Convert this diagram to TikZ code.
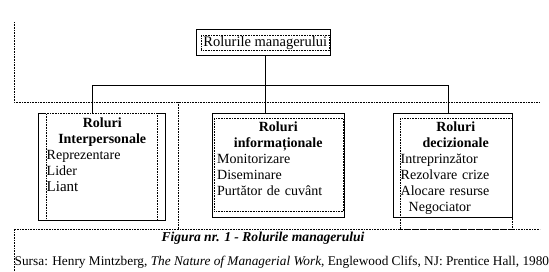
\documentclass[tikz,border=0pt]{standalone}
\usepackage{fontspec}
\setmainfont{Liberation Serif}
\tikzset{
  rolebox/.style={draw,line width=0.8pt,anchor=north west,inner sep=0pt},
  dotbox/.style={draw,densely dotted,line width=0.6pt,anchor=north west,inner sep=0pt},
  roletext/.style={anchor=north west,inner sep=0pt,font=\fontsize{14}{16}\selectfont},
  textframe/.style={densely dotted,line width=0.6pt}
}
\begin{document}
\begin{tikzpicture}[x=1pt,y=-1pt]
    \useasboundingbox (0,0) rectangle (549,271);
    % text frames
    \draw[textframe] (14,22) -- (14,102) -- (540,102);
    \draw[textframe] (178,102) -- (178,229);
    \draw[textframe] (14,271) -- (14,229) -- (540,229);
    % top box
    \node[rolebox,minimum width=134pt,minimum height=26pt] (top) at (196,29) {};
    \node[dotbox,minimum width=128pt,minimum height=15pt,font=\fontsize{14.5}{16}\selectfont] (toptxt) at (201,35) {Rolurile managerului};
    % role boxes
    \node[rolebox,minimum width=127pt,minimum height=107pt] (interp) at (38,113) {};
    \node[dotbox,fill=white,minimum width=111pt,minimum height=107pt] (interpdot) at (46,113) {};
    \node[rolebox,minimum width=132pt,minimum height=104pt] (info) at (212,113) {};
    \node[dotbox,minimum width=129pt,minimum height=93pt] (infodot) at (214,118) {};
    \node[rolebox,minimum width=119pt,minimum height=104pt] (decis) at (393,113) {};
    \node[dotbox,minimum width=112pt,minimum height=111pt] (decisdot) at (400,118) {};
    % texts
    \node[roletext,text width=111pt] (interptxt) at (46.5,117.5)
        {\centering\textbf{Roluri}\\\textbf{Interpersonale}\par
         \raggedright Reprezentare\\Lider\\{\fontsize{15}{17}\selectfont Liant}\par};
    \node[roletext,text width=122pt] (infotxt) at (217,121.5)
        {\centering\textbf{Roluri}\\\textbf{informaționale}\par
         \raggedright Monitorizare\\Diseminare\\Purtător de cuvânt\par};
    \node[roletext,text width=110pt] (decistxt) at (400.5,121.5)
        {\centering\textbf{Roluri}\\\textbf{decizionale}\par
         \raggedright Intreprinzător\\Rezolvare crize\\Alocare resurse\\\hspace*{8pt}Negociator\par};
    % connectors
    \coordinate (busL) at (92,85);
    \coordinate (busM) at (265,85);
    \coordinate (busR) at (448,85);
    \draw[line width=0.8pt] (busM |- top.south) -- (busM);
    \draw[line width=0.8pt] (busL) -- (busR);
    \draw[line width=0.8pt] (busL) -- (busL |- interp.north);
    \draw[line width=0.8pt] (busM) -- (busM |- info.north);
    \draw[line width=0.8pt] (busR) -- (busR |- decis.north);
    % caption
    \node[anchor=base,inner sep=0pt,font=\fontsize{13.6}{15}\selectfont\bfseries\itshape] (caption) at (263,241)
        {Figura nr. 1 - Rolurile managerului};
    \node[anchor=base west,inner sep=0pt,font=\fontsize{13.3}{15}\selectfont] (source) at (14.5,265)
        {Sursa: Henry Mintzberg, \textit{The Nature of Managerial Work}, Englewood Clifs, NJ: Prentice Hall, 1980};
\end{tikzpicture}
\end{document}
